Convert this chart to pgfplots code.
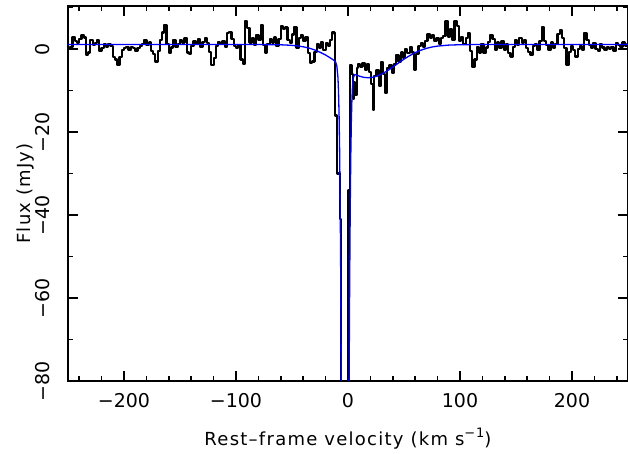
\documentclass[border=0pt]{standalone}
\usepackage{fontspec}
\setmainfont{DejaVu Sans}
\newfontfamily\labfont[LetterSpace=7]{DejaVu Sans}
\usepackage{pgfplots}
\pgfplotsset{compat=1.18}
\begin{document}
\begin{tikzpicture}[x=1pt,y=1pt]
\useasboundingbox (-68,-73) rectangle (560,381);
\begin{axis}[
  at={(0,0)}, anchor=south west,
  width=560pt, height=375pt, scale only axis,
  xmin=-250, xmax=250, ymin=-80, ymax=10.4,
  xtick={-200,-100,0,100,200}, xticklabels={−200,−100,0,100,200},
  ytick={-80,-60,-40,-20,0}, yticklabels={−80,−60,−40,−20,0},
  minor xtick={-240,-220,...,240},
  minor ytick={-70,-50,-30,-10,10},
  major tick length=10pt, minor tick length=5pt,
  tick style={black, line width=1.5pt},
  axis line style={line width=1.5pt},
  ticklabel style={font=\fontsize{19}{19}\selectfont},
  xticklabel style={anchor=north, inner sep=0pt},
  yticklabel style={rotate=90, anchor=south, inner sep=0pt},
  xticklabel shift=12pt, yticklabel shift=18pt,
  xlabel={Rest–frame velocity (km s\raisebox{0.45em}{\fontsize{13}{13}\selectfont −1})},
  ylabel={Flux (mJy)},
  xlabel style={at={([yshift=-65pt]axis description cs:0.5,0)}, anchor=base, font=\labfont\fontsize{18}{18}\selectfont},
  ylabel style={at={([xshift=-37.5pt]axis description cs:0,0.5)}, anchor=base, font=\labfont\fontsize{18}{18}\selectfont},
]
\addplot[const plot, black, line width=2.2pt, line join=round] coordinates {
(-250,0.3)(-248,0.5)(-246,3.0)(-244,2.0)(-242,1.5)(-240,2.5)(-238,3.4)(-236,2.8)(-234,-1.4)(-232,-0.8)(-230,2.2)(-228,1.0)(-226,1.5)(-224,2.2)(-222,-0.5)(-220,0.2)(-218,1.3)(-216,0.5)(-214,1.3)(-212,0.8)(-210,-1.9)(-208,-2.5)(-206,-3.9)(-204,-1.9)(-202,-0.2)(-200,0.2)(-198,0.5)(-196,-0.2)(-194,0.6)(-192,0.2)(-190,-0.5)(-188,0.2)(-186,0.8)(-184,1.3)(-182,2.2)(-180,1.0)(-178,1.6)(-176,-0.5)(-174,-1.2)(-172,-3.0)(-170,-0.5)(-168,2.2)(-166,4.0)(-164,5.8)(-162,1.3)(-160,-1.0)(-158,0.4)(-156,2.2)(-154,0.5)(-152,1.2)(-150,2.2)(-148,1.6)(-146,2.6)(-144,-0.8)(-142,-1.2)(-140,0.8)(-138,2.0)(-136,1.2)(-134,2.4)(-132,0.6)(-130,1.8)(-128,2.6)(-126,1.4)(-124,-0.6)(-122,-3.9)(-120,-2.2)(-118,0.8)(-116,1.8)(-114,1.2)(-112,2.0)(-110,0.6)(-108,3.8)(-106,4.2)(-104,2.4)(-102,0.8)(-100,0.2)(-98,1.0)(-96,-2.5)(-94,-3.5)(-92,6.7)(-90,5.0)(-88,1.6)(-86,2.6)(-84,1.0)(-82,3.4)(-80,2.2)(-78,5.8)(-76,1.0)(-74,-0.8)(-72,1.2)(-70,2.5)(-68,1.6)(-66,2.8)(-64,0.8)(-62,2.4)(-60,5.5)(-58,4.8)(-56,5.2)(-54,2.2)(-52,1.4)(-50,3.5)(-48,5.3)(-46,0.2)(-44,2.6)(-42,3.4)(-40,2.0)(-38,3.0)(-36,-1.0)(-34,-3.4)(-32,-3.0)(-30,-0.6)(-28,1.2)(-26,0.2)(-24,1.8)(-22,-0.2)(-20,1.5)(-18,0.8)(-16,2.2)(-14,4.0)(-12,3.6)(-11.5,-16)(-10,-30)(-7.5,-41)(-6.5,-100)(0.4,-34)(1.6,-3.9)(3.2,-6.0)(4.2,-12.0)(5.4,-8.0)(6.6,-11.0)(7.8,-4.5)(9,-3.5)(11,-4.2)(13,-3.4)(15,-5.0)(17,-3.6)(19,-5.5)(20.5,-8.5)(22,-14.7)(23.5,-6.5)(25.5,-5.0)(27.5,-8.8)(29.5,-3.1)(31.5,-6.0)(33,-10.6)(35,-4.5)(37,-3.8)(39,-5.8)(41,-3.5)(43,-1.5)(45,-3.0)(47,-0.8)(49,-2.2)(51,0.0)(53,-1.0)(55,0.5)(57,-0.8)(59,-4.9)(61,-1.2)(63,0.8)(65,1.5)(67,0.5)(69,2.0)(71,3.7)(73,2.6)(75,3.4)(77,2.0)(79,2.6)(81,1.2)(83,2.6)(85,3.2)(87,6.8)(89,3.0)(91,4.8)(93,2.2)(95,6.8)(97,5.5)(99,2.0)(101,3.0)(103,1.2)(105,2.6)(107,3.8)(109,-0.5)(111,-4.3)(113,-2.5)(115,0.6)(117,-0.8)(119,1.2)(121,-1.0)(123,0.4)(125,1.8)(127,3.4)(129,2.4)(131,-0.3)(133,1.6)(135,0.2)(137,2.0)(139,-0.2)(141,1.2)(143,-1.0)(145,-1.8)(147,0.5)(149,2.2)(151,1.0)(153,2.6)(155,1.4)(157,2.2)(159,0.2)(161,-0.6)(163,-1.5)(165,0.8)(167,1.2)(169,-0.2)(171,2.0)(173,5.4)(175,2.0)(177,0.9)(179,-0.2)(181,1.6)(183,0.3)(185,1.2)(187,3.7)(189,4.6)(191,2.6)(193,0.2)(195,-3.9)(197,-0.6)(199,0.8)(201,-0.3)(203,-1.8)(205,0.0)(207,0.8)(209,-0.2)(211,3.8)(213,2.2)(215,1.0)(217,0.2)(219,1.4)(221,0.0)(223,-0.5)(225,1.2)(227,0.4)(229,-0.2)(231,0.6)(233,0.0)(235,0.6)(237,-0.4)(239,1.4)(241,1.0)(243,0.6)(245,1.6)(247,0.8)(249,1.2)(250,1.2)
};
\addplot[blue, line width=1.3pt] coordinates {
(-250,1.1)(-100,1.1)(-80,1.1)(-70,1.08)(-60,1.04)(-55,0.98)(-50,0.90)(-45,0.77)(-40,0.56)(-35,0.27)(-30,-0.17)(-25,-0.74)(-20,-1.42)(-15,-2.25)(-12,-2.81)(-11,-3.13)(-10,-3.97)(-9,-6.74)(-8.5,-9.92)(-8,-15.3)(-7.5,-23.8)(-7,-36.6)(-6.5,-54.8)(-6,-79.0)(-5.5,-109)(-5,-143)(-2.5,-270)(0,-144)(0.5,-110)(1,-80.2)(1.5,-56.2)(2,-38.2)(2.5,-25.6)(3,-17.3)(3.5,-12.1)(4,-9.1)(4.5,-7.5)(5,-6.69)(6,-6.18)(7,-6.18)(8,-6.28)(10,-6.50)(14,-6.80)(18,-6.90)(22,-6.80)(26,-6.50)(30,-6.03)(35,-5.25)(40,-4.33)(45,-3.36)(50,-2.43)(55,-1.58)(60,-0.85)(65,-0.27)(70,0.18)(75,0.51)(80,0.73)(90,0.97)(100,1.06)(110,1.09)(120,1.1)(250,1.1)
};
\end{axis}
\end{tikzpicture}
\end{document}
